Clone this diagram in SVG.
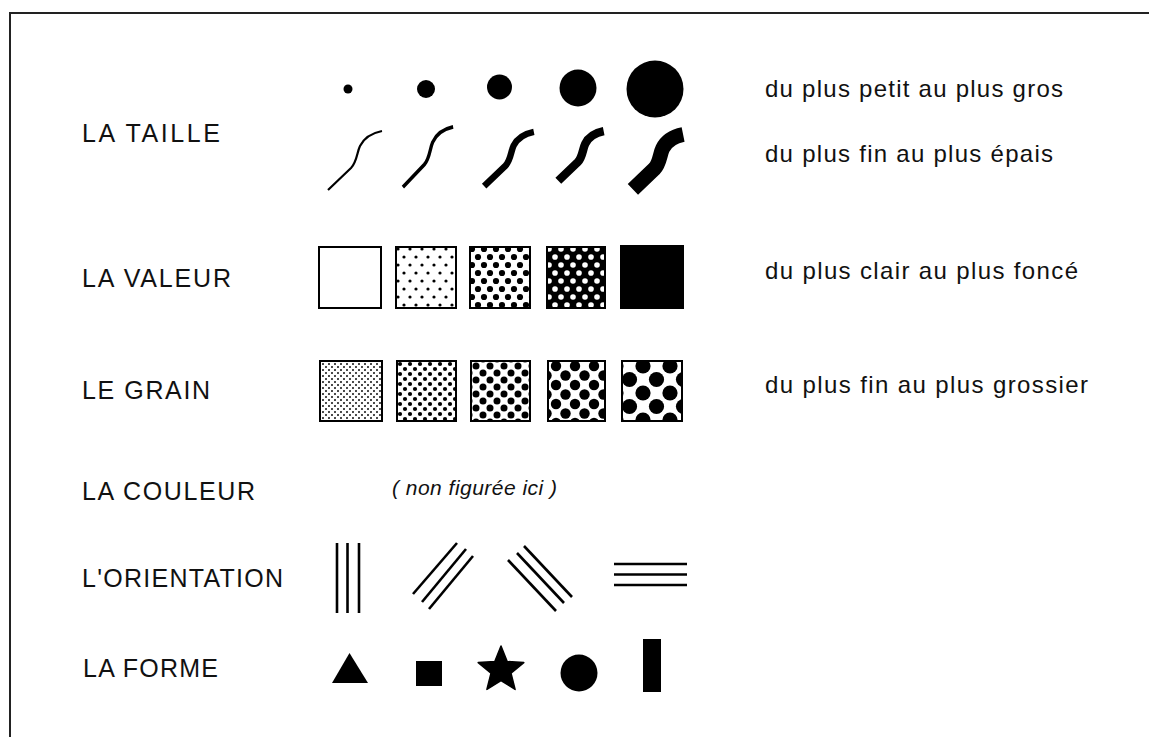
<svg xmlns="http://www.w3.org/2000/svg" width="1149" height="737" viewBox="0 0 1149 737">
<style>
.lbl{font-family:"Liberation Sans",Arial,sans-serif;font-size:25px;fill:#111}
.desc{font-family:"Liberation Sans",Arial,sans-serif;font-size:24px;fill:#111}
.note{font-family:"Liberation Sans",Arial,sans-serif;font-size:21px;font-style:italic;fill:#111}
.sq{stroke:#000;stroke-width:2}
.curve{fill:none;stroke:#000;stroke-linecap:butt;stroke-linejoin:round}
.ln{stroke:#000;stroke-width:2.6;fill:none}
</style>
<defs>
<pattern id="v2" patternUnits="userSpaceOnUse" x="398" y="249" width="12" height="16"><rect width="12" height="16" fill="#fff"/><g fill="#000"><circle cx="6" cy="8" r="1.6"/><circle cx="0" cy="0" r="1.6"/><circle cx="12" cy="0" r="1.6"/><circle cx="0" cy="16" r="1.6"/><circle cx="12" cy="16" r="1.6"/></g></pattern>
<pattern id="v3" patternUnits="userSpaceOnUse" x="472" y="249" width="12" height="16"><rect width="12" height="16" fill="#fff"/><g fill="#000"><circle cx="6" cy="8" r="3.1"/><circle cx="0" cy="0" r="3.1"/><circle cx="12" cy="0" r="3.1"/><circle cx="0" cy="16" r="3.1"/><circle cx="12" cy="16" r="3.1"/></g></pattern>
<pattern id="v4" patternUnits="userSpaceOnUse" x="549" y="249" width="12" height="16"><rect width="12" height="16" fill="#000"/><g fill="#fff"><circle cx="6" cy="8" r="2.8"/><circle cx="0" cy="0" r="2.8"/><circle cx="12" cy="0" r="2.8"/><circle cx="0" cy="16" r="2.8"/><circle cx="12" cy="16" r="2.8"/></g></pattern>
<pattern id="g1" patternUnits="userSpaceOnUse" x="320" y="361" width="6" height="6"><rect width="6" height="6" fill="#fff"/><g fill="#000"><circle cx="3" cy="3" r="0.95"/><circle cx="0" cy="0" r="0.95"/><circle cx="6" cy="0" r="0.95"/><circle cx="0" cy="6" r="0.95"/><circle cx="6" cy="6" r="0.95"/></g></pattern>
<pattern id="g2" patternUnits="userSpaceOnUse" x="400" y="364" width="10" height="10"><rect width="10" height="10" fill="#fff"/><g fill="#000"><circle cx="5" cy="5" r="2.1"/><circle cx="0" cy="0" r="2.1"/><circle cx="10" cy="0" r="2.1"/><circle cx="0" cy="10" r="2.1"/><circle cx="10" cy="10" r="2.1"/></g></pattern>
<pattern id="g3" patternUnits="userSpaceOnUse" x="476" y="366" width="14" height="14"><rect width="14" height="14" fill="#fff"/><g fill="#000"><circle cx="7" cy="7" r="3.5"/><circle cx="0" cy="0" r="3.5"/><circle cx="14" cy="0" r="3.5"/><circle cx="0" cy="14" r="3.5"/><circle cx="14" cy="14" r="3.5"/></g></pattern>
<pattern id="g4" patternUnits="userSpaceOnUse" x="556" y="366" width="19" height="19"><rect width="19" height="19" fill="#fff"/><g fill="#000"><circle cx="9.5" cy="9.5" r="5.2"/><circle cx="0" cy="0" r="5.2"/><circle cx="19" cy="0" r="5.2"/><circle cx="0" cy="19" r="5.2"/><circle cx="19" cy="19" r="5.2"/></g></pattern>
<pattern id="g5" patternUnits="userSpaceOnUse" x="643" y="366" width="27" height="27"><rect width="27" height="27" fill="#fff"/><g fill="#000"><circle cx="13.5" cy="13.5" r="7.6"/><circle cx="0" cy="0" r="7.6"/><circle cx="27" cy="0" r="7.6"/><circle cx="0" cy="27" r="7.6"/><circle cx="27" cy="27" r="7.6"/></g></pattern>
<path id="wave" d="M-27,29.5 L-4,7.5 C2,1.5 2,-8.5 5,-14.5 C9,-22.5 17,-27.5 27,-29.5"/>
</defs>
<rect width="1149" height="737" fill="#fff"/>
<g id="frame" stroke="#222" stroke-width="2" fill="none">
<line x1="10" y1="13" x2="1149" y2="13"/>
<line x1="10" y1="12" x2="10" y2="737"/>
</g>
<g id="labels">
<text class="lbl" x="82" y="142" textLength="138" lengthAdjust="spacing">LA TAILLE</text>
<text class="lbl" x="82" y="287" textLength="149" lengthAdjust="spacing">LA VALEUR</text>
<text class="lbl" x="82" y="399" textLength="128" lengthAdjust="spacing">LE GRAIN</text>
<text class="lbl" x="82" y="500" textLength="173" lengthAdjust="spacing">LA COULEUR</text>
<text class="lbl" x="82" y="587" textLength="201" lengthAdjust="spacing">L'ORIENTATION</text>
<text class="lbl" x="83" y="677" textLength="135" lengthAdjust="spacing">LA FORME</text>
</g>
<g id="descriptions">
<text class="desc" x="765" y="97" textLength="298" lengthAdjust="spacing">du plus petit au plus gros</text>
<text class="desc" x="765" y="162" textLength="288" lengthAdjust="spacing">du plus fin au plus épais</text>
<text class="desc" x="765" y="279" textLength="313" lengthAdjust="spacing">du plus clair au plus foncé</text>
<text class="desc" x="765" y="393" textLength="323" lengthAdjust="spacing">du plus fin au plus grossier</text>
<text class="note" x="392" y="495" textLength="165" lengthAdjust="spacing">( non figurée ici )</text>
</g>
<g id="taille-dots" fill="#000">
<circle cx="348" cy="89" r="4.5"/>
<circle cx="426" cy="89" r="9"/>
<circle cx="499.5" cy="87" r="12.5"/>
<circle cx="578" cy="88" r="18.5"/>
<circle cx="655" cy="89" r="28.5"/>
</g>
<g id="taille-lines">
<use href="#wave" class="curve" transform="translate(355,160.5)" stroke-width="2.2"/>
<use href="#wave" class="curve" transform="translate(428,157) scale(0.93,1.02)" stroke-width="3.6"/>
<use href="#wave" class="curve" transform="translate(509,159) scale(0.92)" stroke-width="7" vector-effect="non-scaling-stroke"/>
<use href="#wave" class="curve" transform="translate(581,156) scale(0.84)" stroke-width="10" vector-effect="non-scaling-stroke"/>
<use href="#wave" class="curve" transform="translate(658,162) scale(0.93)" stroke-width="16" vector-effect="non-scaling-stroke"/>
</g>
<g id="valeur">
<rect class="sq" x="319" y="247" width="62" height="61" fill="#fff"/>
<rect class="sq" x="396" y="247" width="60" height="61" fill="url(#v2)"/>
<rect class="sq" x="470" y="247" width="60" height="61" fill="url(#v3)"/>
<rect class="sq" x="547" y="247" width="58" height="61" fill="url(#v4)"/>
<rect class="sq" x="621" y="246" width="62" height="62" fill="#000"/>
</g>
<g id="grain">
<rect class="sq" x="320" y="361" width="62" height="60" fill="url(#g1)"/>
<rect class="sq" x="397" y="361" width="59" height="60" fill="url(#g2)"/>
<rect class="sq" x="471" y="361" width="59" height="60" fill="url(#g3)"/>
<rect class="sq" x="548" y="361" width="57" height="60" fill="url(#g4)"/>
<rect class="sq" x="622" y="361" width="60" height="60" fill="url(#g5)"/>
</g>
<g id="orientation" class="ln">
<line x1="337" y1="543" x2="337" y2="613"/>
<line x1="347.5" y1="543" x2="347.5" y2="613"/>
<line x1="359" y1="543" x2="359" y2="613"/>
<line x1="413" y1="594" x2="457" y2="543"/>
<line x1="422" y1="602" x2="466" y2="549"/>
<line x1="429" y1="609" x2="473" y2="556"/>
<line x1="508" y1="560" x2="556" y2="611"/>
<line x1="517" y1="553" x2="564" y2="603"/>
<line x1="524" y1="546" x2="572" y2="597"/>
<line x1="614" y1="564" x2="687" y2="564"/>
<line x1="614" y1="574.5" x2="687" y2="574.5"/>
<line x1="614" y1="585" x2="687" y2="585"/>
</g>
<g id="forme" fill="#000">
<polygon points="332,683 368,683 349.5,653"/>
<rect x="416" y="661" width="26" height="25"/>
<polygon points="501,646 507.2,661.5 523.8,662.6 511,673.2 515.1,689.4 501,680.5 486.9,689.4 491,673.2 478.2,662.6 494.8,661.5" stroke="#000" stroke-width="1.5" stroke-linejoin="round"/>
<circle cx="579" cy="673" r="18.5"/>
<rect x="643" y="639" width="18" height="53"/>
</g>
</svg>
